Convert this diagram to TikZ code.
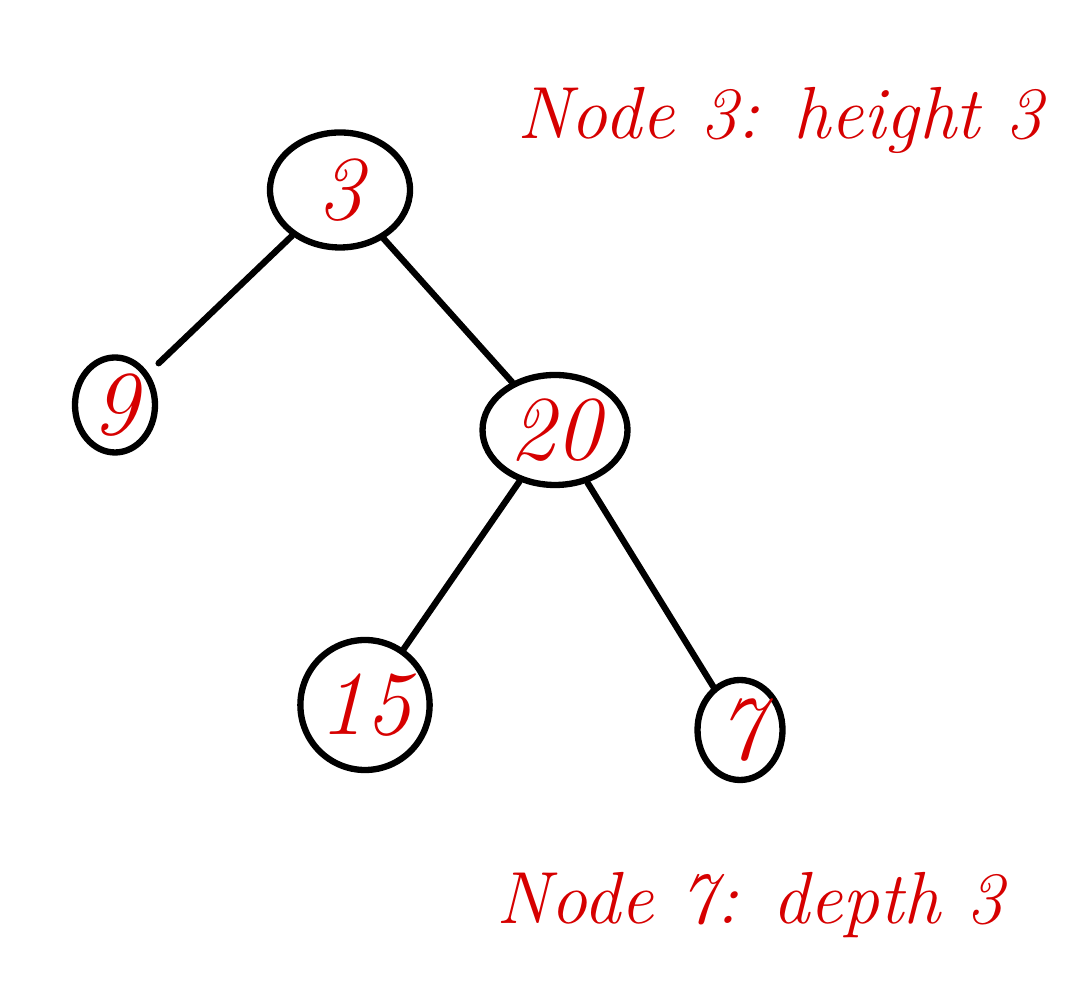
\documentclass[tikz,border=0pt]{standalone}
\usepackage{xcolor}
\usetikzlibrary{shapes.geometric}
\definecolor{inkred}{RGB}{214,0,0}
\tikzset{
  treenode/.style={draw,ellipse,line width=1.8pt,inner sep=0pt,text=inkred,font=\fontsize{26}{28}\selectfont\itshape},
  treeedge/.style={line width=1.8pt,line cap=round},
  note/.style={text=inkred,font=\fontsize{21}{23}\selectfont\itshape}
}

\begin{document}
\begin{tikzpicture}[scale=1]
\useasboundingbox (0,0) rectangle (10.81,10);
\node [treenode,minimum width=1.4cm,minimum height=1.15cm] (n3) at (3.40,8.10) {3};
\node [treenode,minimum width=0.8cm,minimum height=0.95cm] (n9) at (1.15,5.95) {9};
\node [treenode,minimum width=1.45cm,minimum height=1.1cm] (n20) at (5.55,5.70) {20};
\node [treenode,minimum width=1.2cm,minimum height=1.3cm] (n15) at (3.65,2.95) {15};
\node [treenode,minimum width=0.85cm,minimum height=1.0cm] (n7) at (7.40,2.70) {7};

\draw [treeedge,shorten >=4pt] (n3) -- (n9);
\draw [treeedge] (n3) -- (n20);
\draw [treeedge] (n20) -- (n15);
\draw [treeedge] (n20) -- (n7);

\node [note] (lab3) at (7.80,8.80) {Node 3: height 3};
\node [note] (lab7) at (7.50,0.95) {Node 7: depth 3};
\end{tikzpicture}
\end{document}
